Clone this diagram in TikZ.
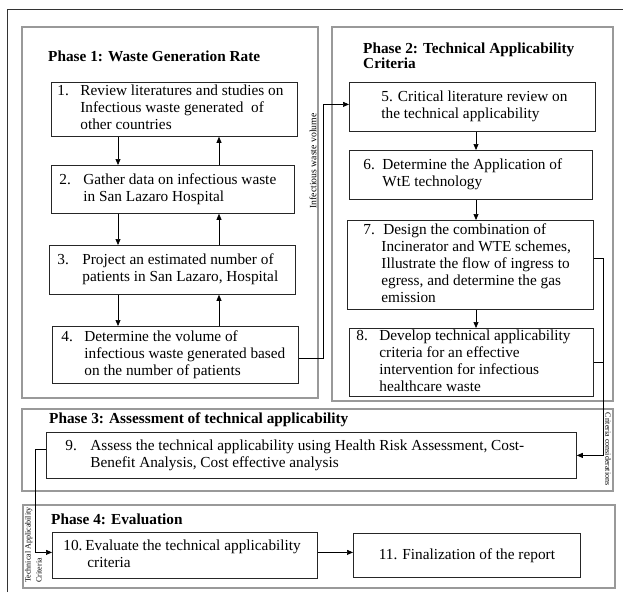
\documentclass[tikz,border=0pt]{standalone}
\usepackage{fontspec}
\setmainfont{Liberation Serif}
\usetikzlibrary{arrows.meta}
\newcommand{\bodysize}{\fontsize{15.3pt}{17pt}\selectfont}
\newcommand{\steptext}[5]{\makebox[#1pt][l]{\hspace*{#2pt}\makebox[\dimexpr#3pt-#2pt\relax][l]{#4}\begin{tabular}[t]{@{}l@{}}#5\end{tabular}}}

\begin{document}
\begin{tikzpicture}[x=1pt,y=-1pt,
  stepbox/.style={draw=black!85, line width=0.8pt, inner sep=0pt, anchor=north west, font=\bodysize},
  phasebox/.style={draw=black!40, line width=1.2pt},
  phasetitle/.style={anchor=base west, inner sep=0pt, font=\bodysize\bfseries},
  flow/.style={-{Triangle[length=6pt,width=5pt]}, line width=0.7pt},
  sidelabel/.style={inner sep=0pt, font=\fontsize{8pt}{11pt}\selectfont}]
\useasboundingbox (0,0) rectangle (623,592);
\fill[white] (0,0) rectangle (623,592);
\draw[black!80, line width=0.8pt] (7,592) -- (7,9) -- (623,9);
\draw[phasebox] (22,27) rectangle (318,398);
\draw[phasebox] (332,27) rectangle (613,401);
\draw[phasebox] (22,409) rectangle (613,491);
\draw[phasebox] (23,505) rectangle (615,588);
\node[phasetitle] (t1) at (48,61) {Phase 1: Waste Generation Rate};
\node[phasetitle] (t2) at (363,53) {\fontsize{15.3pt}{15pt}\selectfont\begin{tabular}[t]{@{}l@{}}Phase 2: Technical Applicability\\Criteria\end{tabular}};
\node[phasetitle] (t3) at (49,423) {Phase 3: Assessment of technical applicability};
\node[phasetitle] (t4) at (51,524) {Phase 4: Evaluation};

\node[stepbox, minimum height=54pt] (s1) at (51,82) {\steptext{246}{6}{29}{1.}{Review literatures and studies on\\Infectious waste generated\ \ of\\other countries}};
\node[stepbox, minimum height=48pt] (s2) at (51,165) {\steptext{243}{8}{32}{2.}{Gather data on infectious waste\\in San Lazaro Hospital}};
\node[stepbox, minimum height=49pt] (s3) at (49,245) {\steptext{246}{8}{33}{3.}{Project an estimated number of\\patients in San Lazaro, Hospital}};
\node[stepbox, minimum height=57pt] (s4) at (52,326) {\steptext{246}{9}{32}{4.}{Determine the volume of\\infectious waste generated based\\on the number of patients}};
\node[stepbox, minimum height=49pt] (s5) at (349,82) {\steptext{246}{32}{32}{}{5. Critical literature review on\\the technical applicability}};
\node[stepbox, minimum height=49pt] (s6) at (349,150) {\steptext{243}{14}{33}{6.}{Determine the Application of\\WtE technology}};
\node[stepbox, minimum height=89pt] (s7) at (347,220) {\steptext{246}{16}{34}{7.}{\hspace{2pt}Design the combination of\\Incinerator and WTE schemes,\\Illustrate the flow of ingress to\\egress, and determine the gas\\emission}};
\node[stepbox, minimum height=67pt] (s8) at (349,328) {\steptext{244}{7}{30}{8.}{Develop technical applicability\\criteria for an effective\\intervention for infectious\\healthcare waste}};
\node[stepbox, minimum height=46pt] (s9) at (46,432) {\steptext{530}{19}{44}{9.}{Assess the technical applicability using Health Risk Assessment, Cost-\\Benefit Analysis, Cost effective analysis}};
\node[stepbox, minimum height=46pt] (s10) at (52,532) {\steptext{265}{11}{33}{10.}{Evaluate the technical applicability\\\hspace{2pt}criteria}};
\node[stepbox, minimum width=227pt, minimum height=44pt] (s11) at (353,533) {11. Finalization of the report};

\coordinate (dn) at (118,0);
\coordinate (up) at (219,0);
\coordinate (mid) at (476,0);
\draw[flow] (s1.south -| dn) -- (s2.north -| dn);
\draw[flow] (s2.north -| up) -- (s1.south -| up);
\draw[flow] (s2.south -| dn) -- (s3.north -| dn);
\draw[flow] (s3.north -| up) -- (s2.south -| up);
\draw[flow] (s3.south -| dn) -- (s4.north -| dn);
\draw[flow] (s4.north -| up) -- (s3.south -| up);
\draw[flow] (s5.south -| mid) -- (s6.north -| mid);
\draw[flow] (s6.south -| mid) -- (s7.north -| mid);
\draw[flow] (s7.south -| mid) -- (s8.north -| mid);

\coordinate (ja) at (323,0);
\draw[flow] ([yshift=-3pt]s4.east) -- ([yshift=-3pt]s4.east -| ja) -- ([yshift=2.5pt]s5.west -| ja) -- ([yshift=2.5pt]s5.west);
\node[sidelabel, font=\fontsize{9.7pt}{11pt}\selectfont, rotate=90] (volume) at (313,161) {Infectious waste volume};

\coordinate (jb) at (35,0);
\draw[flow] ([yshift=6pt]s9.west) -- ([yshift=6pt]s9.west -| jb) -- ([yshift=3pt]s10.west -| jb) -- ([yshift=3pt]s10.west);
\node[sidelabel, rotate=90, align=left] (criteria) at (33.5,545) {Technical Applicability\\Criteria};

\coordinate (jc) at (603,0);
\draw[line width=0.7pt] ([yshift=0.5pt]s8.east) -- ([yshift=0.5pt]s8.east -| jc);
\draw[flow] ([yshift=6.5pt]s7.east) -- ([yshift=6.5pt]s7.east -| jc) -- (s9.east -| jc) -- (s9.east);
\node[sidelabel, rotate=-90] (considerations) at (608,449) {Criteria considerations};

\draw[flow] ([yshift=3pt]s10.east) -- ([yshift=3pt]s10.east -| s11.west);
\end{tikzpicture}
\end{document}
